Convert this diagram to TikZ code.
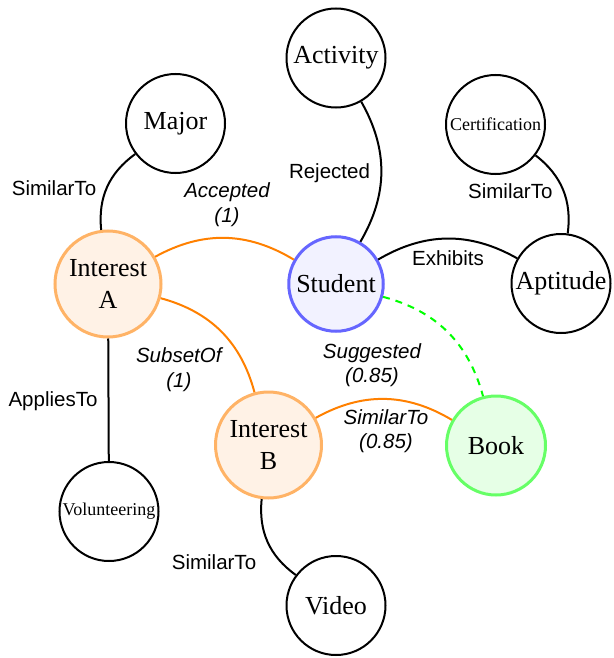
\documentclass[tikz,border=0pt]{standalone}
\usepackage{fontspec}
\setmainfont{Liberation Serif}
\setsansfont{Liberation Sans}
\definecolor{ibord}{HTML}{FFB366}
\definecolor{ifill}{HTML}{FFF2E6}
\definecolor{sbord}{HTML}{6666FF}
\definecolor{sfill}{HTML}{F2F2FF}
\definecolor{bbord}{HTML}{66FF66}
\definecolor{bfill}{HTML}{E6FFE6}
\definecolor{eorange}{HTML}{FF8000}
\definecolor{egreen}{HTML}{00FF00}
\begin{document}
\begin{tikzpicture}[x=1pt,y=-1pt,
  ent/.style={circle, draw=black, line width=2pt, minimum size=99pt, inner sep=0pt,
    font=\fontsize{26}{31.2}\selectfont, align=center},
  smalltext/.style={font=\fontsize{18}{21.6}\selectfont},
  interest/.style={ent, draw=ibord, fill=ifill, line width=3pt, minimum size=106pt},
  studentnode/.style={ent, draw=sbord, fill=sfill, line width=3pt, minimum size=94.5pt},
  booknode/.style={ent, draw=bbord, fill=bfill, line width=3pt, minimum size=99pt},
  lab/.style={font=\sffamily\fontsize{20.5}{24.6}\selectfont, align=center, inner sep=0pt},
  ilab/.style={lab, font=\sffamily\itshape\fontsize{20.5}{24.6}\selectfont},
  blk/.style={line width=2pt, draw=black},
  org/.style={line width=2pt, draw=eorange},
  sug/.style={line width=2pt, draw=egreen, dash pattern=on 7pt off 6pt}
]
\useasboundingbox (0,0) rectangle (613,658);

% nodes
\node[ent] (activity) at (336,58) {Activity};
\node[ent] (major) at (175.5,123.5) {Major};
\node[ent, smalltext] (cert) at (495.5,124.5) {Certification};
\node[interest] (inta) at (108,284) {Interest\\A};
\node[studentnode] (student) at (336,284) {Student};
\node[ent] (aptitude) at (561,283.5) {Aptitude};
\node[interest] (intb) at (268.5,445) {Interest\\B};
\node[booknode] (book) at (496,445.5) {Book};
\node[ent, smalltext] (vol) at (109,511.5) {Volunteering};
\node[ent] (video) at (336,605.5) {Video};

% connectors
\draw[blk] (major) to[bend right=30] (inta);
\draw[org] (inta) to[bend left=30] (student);
\draw[org] (inta) to[bend left=30] (intb);
\draw[org] (intb) to[bend left=30] (book);
\draw[sug] (student) to[bend left=30] (book);
\draw[blk] (activity) to[bend left=30] (student);
\draw[blk] (student) to[bend left=30] (aptitude);
\draw[blk] (cert) to[bend left=30] (aptitude);
\draw[blk] (inta) -- (vol);
\draw[blk] (intb) to[bend right=30] (video);

% labels
\node[lab, anchor=base] (l1) at (54,195) {SimilarTo};
\node[ilab] (l2) at (227,204.5) {Accepted\\(1)};
\node[lab, anchor=base] (l3) at (329.5,178) {Rejected};
\node[lab, anchor=base] (l4) at (510.3,198.3) {SimilarTo};
\node[lab, anchor=base] (l5) at (448,265) {Exhibits};
\node[lab, anchor=base] (l6) at (53,406.7) {AppliesTo};
\node[ilab] (l7) at (178.8,369.5) {SubsetOf\\(1)};
\node[ilab] (l8) at (372,365) {Suggested\\(0.85)};
\node[ilab] (l9) at (386,431.3) {SimilarTo\\(0.85)};
\node[lab, anchor=base] (l10) at (214,569) {SimilarTo};
\end{tikzpicture}
\end{document}
